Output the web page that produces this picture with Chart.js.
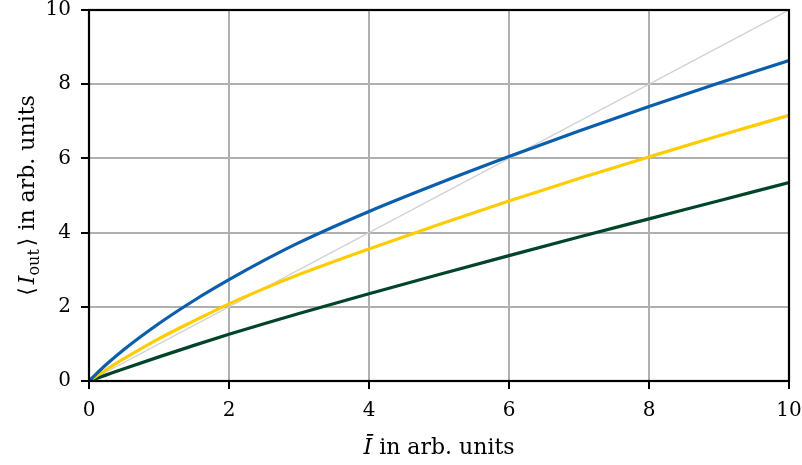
<!DOCTYPE html>
<html>
<head>
<meta charset="utf-8">
<script src="https://cdn.jsdelivr.net/npm/chart.js@4/dist/chart.umd.min.js"></script>
<style>
  html, body { margin: 0; padding: 0; background: #fff; }
  #wrap { width: 802px; height: 465px; }
</style>
</head>
<body>
<div id="wrap"><canvas id="c" width="802" height="465"></canvas></div>
<script>
// Mean input intensity (x) and mean output intensity for three responses
const intensity = [0, 0.25, 0.5, 1, 1.5, 2, 2.5, 3, 4, 5, 6, 7, 8, 9, 10];
const outBlue   = [0, 0.45, 0.85, 1.55, 2.17, 2.73, 3.25, 3.73, 4.57, 5.33, 6.05, 6.74, 7.40, 8.03, 8.64];
const outYellow = [0, 0.31, 0.60, 1.14, 1.62, 2.08, 2.49, 2.87, 3.56, 4.22, 4.85, 5.46, 6.04, 6.61, 7.16];
const outGreen  = [0, 0.165, 0.33, 0.65, 0.96, 1.26, 1.545, 1.82, 2.35, 2.87, 3.38, 3.88, 4.37, 4.86, 5.35];
// Identity reference line
const identityX = [0, 10];
const identityY = [0, 10];
const xTicks = [0, 2, 4, 6, 8, 10];
const yTicks = [0, 2, 4, 6, 8, 10];

const pts = (xs, ys) => xs.map((x, i) => ({ x: x, y: ys[i] }));

const SERIF = '"DejaVu Serif", "DejaVu Sans", serif';
Chart.defaults.font.family = SERIF;

const frameAndTitles = {
  id: 'frameAndTitles',
  afterDatasetsDraw(chart) {
    const { ctx, chartArea: a } = chart;
    ctx.save();
    ctx.strokeStyle = '#000';
    ctx.lineWidth = 2.2;
    ctx.strokeRect(a.left, a.top, a.right - a.left, a.bottom - a.top);
    ctx.restore();
  },
  afterDraw(chart) {
    const { ctx, chartArea: a } = chart;
    ctx.save();
    ctx.fillStyle = '#000';
    ctx.textBaseline = 'alphabetic';
    ctx.textAlign = 'left';

    // x-axis title: "Ī in arb. units"
    const fIt = 'italic 22px ' + SERIF;
    const fRm = '22px ' + SERIF;
    ctx.font = fIt; const w1 = ctx.measureText('Ī').width;
    ctx.font = fRm; const w2 = ctx.measureText(' in arb. units').width;
    let x = (a.left + a.right) / 2 - (w1 + w2) / 2;
    const yb = 454;
    ctx.font = fIt; ctx.fillText('Ī', x, yb);
    ctx.font = fRm; ctx.fillText(' in arb. units', x + w1, yb);

    // y-axis title: "⟨I_out⟩ in arb. units", rotated
    const fSub = '16px ' + SERIF;
    const parts = [
      { t: '⟨', f: fRm, dy: 0, gap: 3 },
      { t: 'I', f: fIt, dy: 0, gap: 0 },
      { t: 'out', f: fSub, dy: 5, gap: 3 },
      { t: '⟩ in arb. units', f: fRm, dy: 0, gap: 0 }
    ];
    let total = 0;
    parts.forEach(p => { ctx.font = p.f; p.w = ctx.measureText(p.t).width; total += p.w + p.gap; });
    ctx.translate(34, (a.top + a.bottom) / 2);
    ctx.rotate(-Math.PI / 2);
    let px = -total / 2;
    parts.forEach(p => { ctx.font = p.f; ctx.fillText(p.t, px, p.dy); px += p.w + p.gap; });
    ctx.restore();
  }
};

const gridOpts = {
  color: '#b0b0b0',
  lineWidth: 2,
  tickColor: '#000',
  tickWidth: 2,
  tickLength: 8,
  drawTicks: true
};

// Axes take fixed sizes and no extra overflow padding, so the plot box stays put
const noPad = s => { s.paddingLeft = 0; s.paddingRight = 0; s.paddingTop = 0; s.paddingBottom = 0; };

new Chart(document.getElementById('c'), {
  type: 'line',
  data: {
    datasets: [
      { data: pts(intensity, outBlue), borderColor: '#0a5eab', borderWidth: 3.2 },
      { data: pts(intensity, outYellow), borderColor: '#ffcc00', borderWidth: 3.2 },
      { data: pts(intensity, outGreen), borderColor: '#00452a', borderWidth: 3.2 },
      { data: pts(identityX, identityY), borderColor: '#d0d0d0', borderWidth: 1.3, tension: 0, cubicInterpolationMode: 'default' }
    ]
  },
  options: {
    responsive: false,
    animation: false,
    events: [],
    layout: { padding: { top: 10, right: 13, left: 0, bottom: 0 } },
    elements: {
      point: { radius: 0 },
      line: { cubicInterpolationMode: 'monotone', fill: false, borderCapStyle: 'round' }
    },
    plugins: { legend: { display: false }, tooltip: { enabled: false } },
    scales: {
      x: {
        type: 'linear', min: 0, max: 10,
        afterBuildTicks: s => { s.ticks = xTicks.map(v => ({ value: v })); },
        afterFit: s => { s.height = 84; noPad(s); },
        grid: gridOpts,
        border: { display: false },
        ticks: { color: '#000', font: { size: 20 }, padding: 10, maxRotation: 0 }
      },
      y: {
        type: 'linear', min: 0, max: 10,
        afterBuildTicks: s => { s.ticks = yTicks.map(v => ({ value: v })); },
        afterFit: s => { s.width = 89; noPad(s); },
        grid: gridOpts,
        border: { display: false },
        ticks: { color: '#000', font: { size: 20 }, padding: 10 }
      }
    }
  },
  plugins: [frameAndTitles]
});
</script>
</body>
</html>
